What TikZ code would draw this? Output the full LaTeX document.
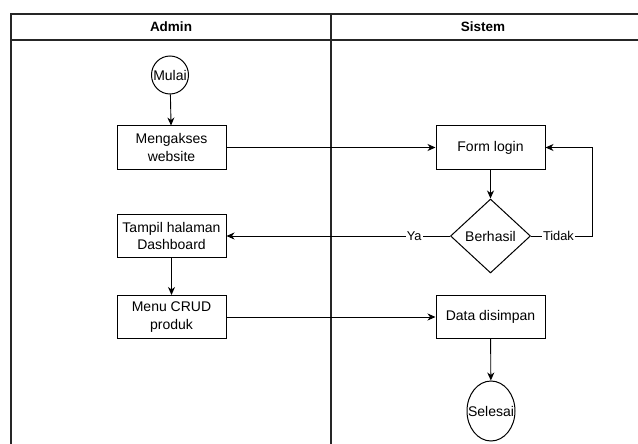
\documentclass[tikz,border=0pt]{standalone}
\usepackage{fontspec}
\setmainfont{Liberation Sans}
\usetikzlibrary{shapes.geometric,arrows.meta}
\begin{document}
\begin{tikzpicture}[x=1pt,y=-1pt,
  font=\fontsize{14}{17.5}\selectfont,
  lane/.style={line width=1.7pt, draw=black!85},
  lanetitle/.style={font=\fontsize{13.5}{15}\selectfont\bfseries},
  box/.style={draw, line width=1pt, minimum width=109pt, minimum height=43pt,
    align=center, inner sep=1pt},
  term/.style={draw, ellipse, line width=1pt, inner sep=0pt},
  decision/.style={draw, diamond, line width=1pt, inner sep=0pt, aspect=1.08,
    minimum width=80pt, minimum height=74pt},
  flow/.style={-{Stealth[length=8pt,width=7pt,inset=2.5pt]}, line width=0.9pt},
  tag/.style={fill=white, inner sep=1pt, font=\fontsize{12.8}{14}\selectfont}]

\useasboundingbox (0,0) rectangle (638,444);
\fill[white] (0,0) rectangle (638,444);

% swimlane frame
\begin{scope}
  \clip (0,0) rectangle (638,444);
  \draw[lane] (11,14) rectangle (652,470);
  \draw[lane] (11,40) -- (652,40);
  \draw[lane] (331,14) -- (331,470);
\end{scope}
\node[lanetitle] (hadmin) at (171,27) {Admin};
\node[lanetitle] (hsistem) at (483,27) {Sistem};

% Admin lane
\node[term, minimum width=37pt, minimum height=38pt] (mulai) at (170,75) {\makebox[0pt]{Mulai}};
\node[box] (akses) at (171.5,147.5) {Mengakses\\website};
\node[box] (dash) at (171.5,236) {Tampil halaman\\Dashboard};
\node[box] (crud) at (171.5,317) {Menu CRUD\\produk};

% Sistem lane
\node[box] (login) at (490.5,147.5) {Form login};
\node[decision] (cek) at (490.5,236) {Berhasil};
\node[box] (simpan) at (490.5,317) {Data disimpan};
\node[term, minimum width=48pt, minimum height=60pt] (selesai) at (491,411) {\makebox[0pt]{Selesai}};
\coordinate (retry) at (592,236);

% connectors
\draw[flow] (mulai) -- (akses);
\draw[flow] (akses) -- (login);
\draw[flow] (login) -- (cek);
\draw[flow] (cek.west) -- node[tag, pos=0.16] {Ya} (dash.east);
\draw[flow] (cek.east) -- node[tag, pos=0.45] {Tidak} (retry) |- (login.east);
\draw[flow] (dash) -- (crud);
\draw[flow] (crud) -- (simpan);
\draw[flow] (simpan) -- (selesai);
\end{tikzpicture}
\end{document}
